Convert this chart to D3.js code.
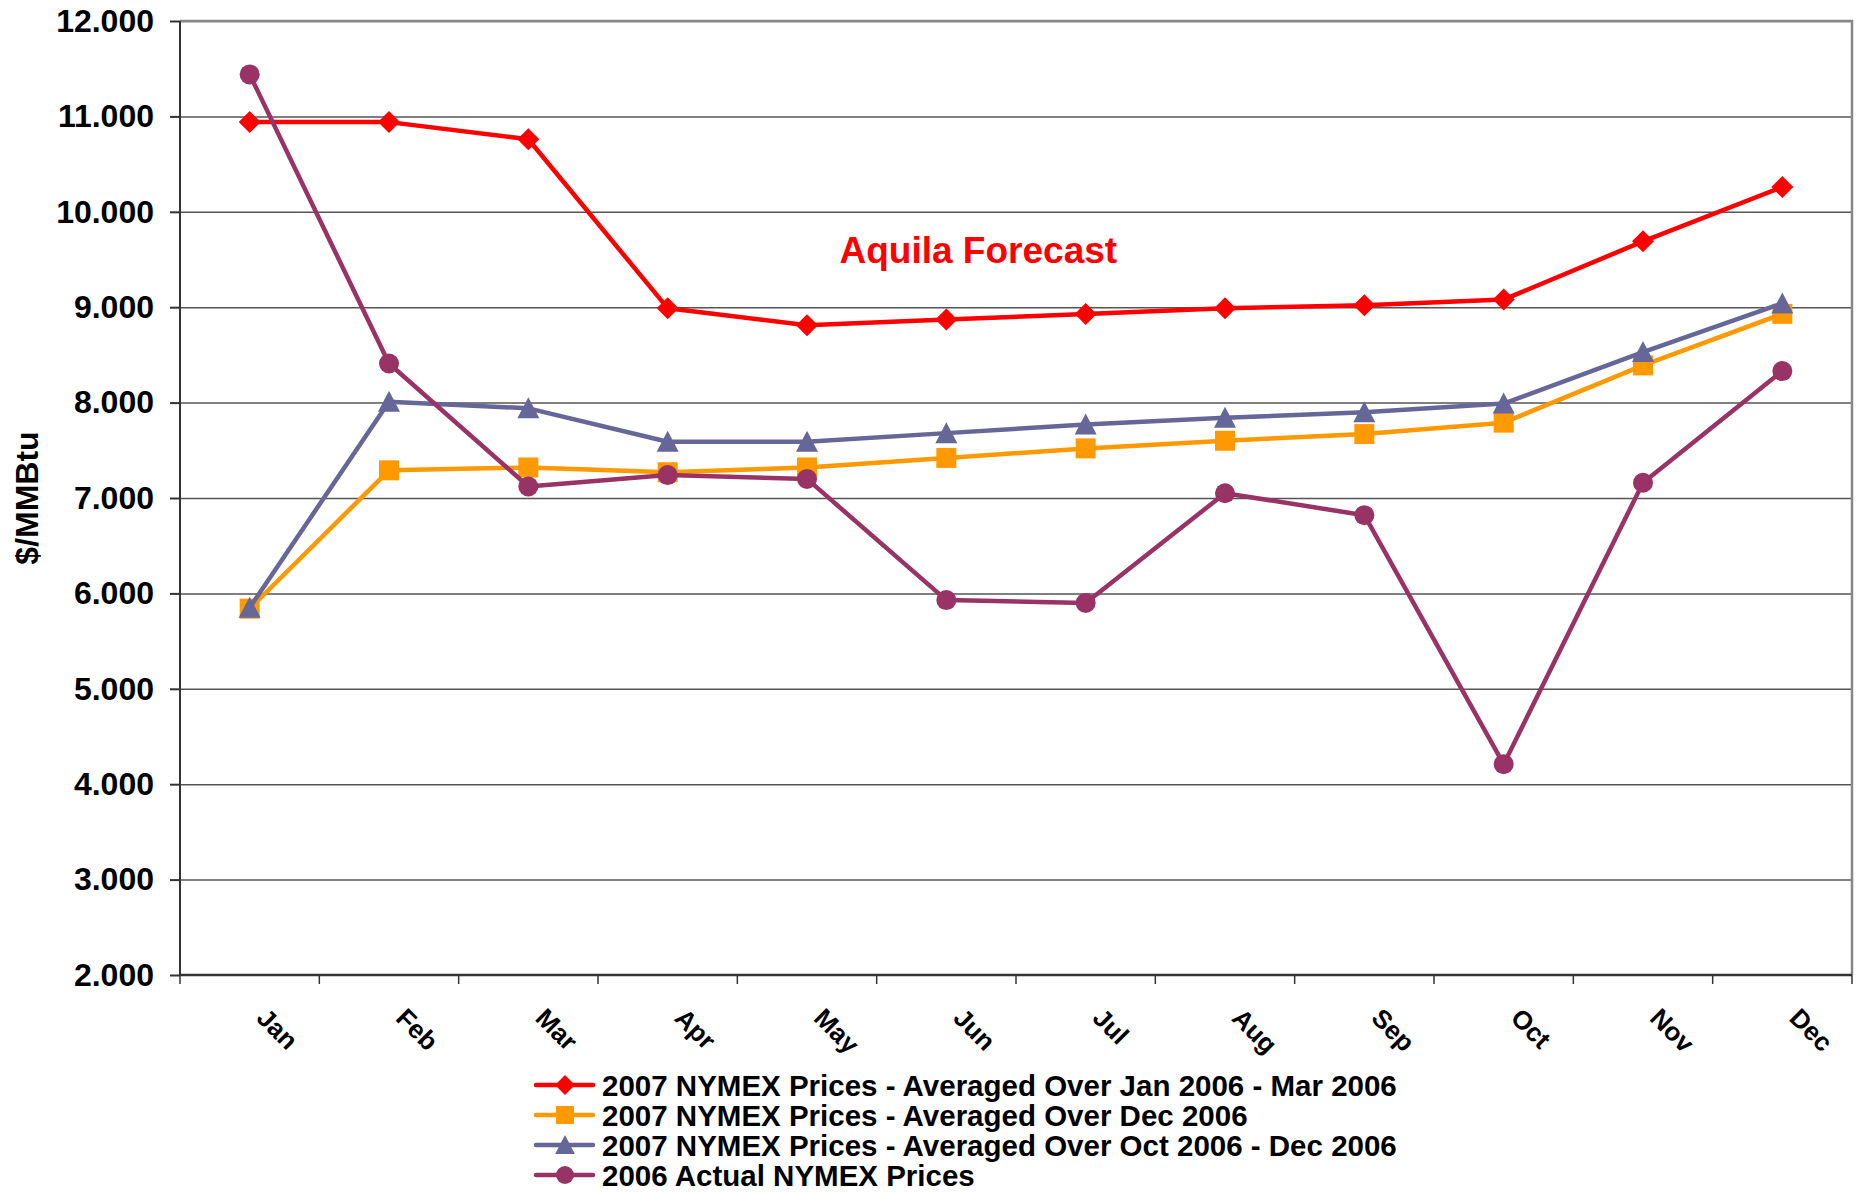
<!DOCTYPE html>
<meta charset="utf-8">
<script src="https://d3js.org/d3.v7.min.js"></script>
<style>
body { margin: 0; background: #fff; }
text { font-family: "Liberation Sans", Arial, sans-serif; font-weight: bold; }
.grid line { stroke: #555; stroke-width: 1.5px; }
.grid path { display: none; }
.y.axis path, .y.axis line { stroke: #333; stroke-width: 2px; }
.y.axis text { font-size: 32px; fill: #000; }
.xlab { font-size: 26px; fill: #000; }
.legend text { font-size: 29.5px; fill: #000; }
</style>
<body>
<script>

var months = ["Jan", "Feb", "Mar", "Apr", "May", "Jun", "Jul", "Aug", "Sep", "Oct", "Nov", "Dec"];

// series values ($/MMBtu)
var avgJanMar = [10.94, 10.94, 10.76, 8.99, 8.81, 8.87, 8.93, 8.99, 9.02, 9.08, 9.69, 10.26];
var avgDec    = [5.84, 7.29, 7.32, 7.27, 7.32, 7.42, 7.52, 7.60, 7.67, 7.79, 8.39, 8.93];
var avgOctDec = [5.85, 8.01, 7.94, 7.59, 7.59, 7.68, 7.77, 7.84, 7.90, 7.99, 8.53, 9.04];
var actual06  = [11.44, 8.41, 7.12, 7.24, 7.20, 5.93, 5.90, 7.05, 6.82, 4.21, 7.16, 8.33];

var yTicks = [2, 3, 4, 5, 6, 7, 8, 9, 10, 11, 12];

var legendLabels = [
  "2007 NYMEX Prices - Averaged Over Jan 2006 - Mar 2006",
  "2007 NYMEX Prices - Averaged Over Dec 2006",
  "2007 NYMEX Prices - Averaged Over Oct 2006 - Dec 2006",
  "2006 Actual NYMEX Prices"
];

var colors = ["#ff0000", "#ff9900", "#666699", "#993366"];
var shapes = ["diamond", "square", "triangle", "circle"];
var seriesValues = [avgJanMar, avgDec, avgOctDec, actual06];

var W = 1858, H = 1193;
var margin = {top: 21, right: 6, bottom: 218, left: 180};
var width = W - margin.left - margin.right,
    height = H - margin.top - margin.bottom;

var svg = d3.select("body").append("svg")
    .attr("width", W)
    .attr("height", H);

var g = svg.append("g")
    .attr("transform", "translate(" + margin.left + "," + margin.top + ")");

var x = d3.scaleBand().domain(months).range([0, width]);
var y = d3.scaleLinear().domain([2, 12]).range([height, 0]);

// gridlines
g.append("g")
    .attr("class", "grid")
    .call(d3.axisLeft(y).tickValues(yTicks.slice(1)).tickSize(-width).tickFormat(""));

// plot frame (top / right in grey)
g.append("path")
    .attr("d", "M0,0H" + width + "V" + height)
    .attr("fill", "none")
    .attr("stroke", "#888")
    .attr("stroke-width", 2.5);

// y axis
g.append("g")
    .attr("class", "y axis")
    .call(d3.axisLeft(y).tickValues(yTicks).tickSize(10).tickPadding(16)
      .tickFormat(d3.format(".3f")))
    .call(function(s) { s.select(".domain").attr("d", "M0,0V" + height); });

// x axis line + boundary ticks
var xa = g.append("g").attr("transform", "translate(0," + height + ")");
xa.append("line").attr("x1", 0).attr("x2", width)
    .attr("stroke", "#333").attr("stroke-width", 2.5);
xa.selectAll(".xt")
    .data(months.map(function(m) { return x(m); }).concat([width]))
  .enter().append("line")
    .attr("x1", function(d) { return d; }).attr("x2", function(d) { return d; })
    .attr("y1", 0).attr("y2", 9)
    .attr("stroke", "#333").attr("stroke-width", 1.5);

xa.selectAll(".xlab")
    .data(months)
  .enter().append("text")
    .attr("class", "xlab")
    .attr("transform", function(d) {
      return "translate(" + (x(d) + x.bandwidth() / 2 + 12) + ",38) rotate(45)";
    })
    .attr("dy", "0.35em")
    .text(function(d) { return d; });

// y title
svg.append("text")
    .attr("transform", "translate(38,498) rotate(-90)")
    .attr("text-anchor", "middle")
    .style("font-size", "32px")
    .text("$/MMBtu");

// marker shapes
function markerPath(shape) {
  if (shape === "diamond") return "M0,-11L11,0L0,11L-11,0Z";
  if (shape === "square") return "M-10,-10H10V10H-10Z";
  if (shape === "triangle") return "M0,-11L11,10H-11Z";
  return d3.symbol().type(d3.symbolCircle).size(Math.PI * 100)();
}

var line = d3.line()
    .x(function(d, i) { return x(months[i]) + x.bandwidth() / 2; })
    .y(function(d) { return y(d); });

seriesValues.forEach(function(vals, k) {
  var sg = g.append("g");
  sg.append("path")
      .datum(vals)
      .attr("d", line)
      .attr("fill", "none")
      .attr("stroke", colors[k])
      .attr("stroke-width", 4.5)
      .attr("stroke-linejoin", "round");
  sg.selectAll(".m")
      .data(vals)
    .enter().append("path")
      .attr("transform", function(d, i) {
        return "translate(" + (x(months[i]) + x.bandwidth() / 2) + "," + y(d) + ")";
      })
      .attr("d", markerPath(shapes[k]))
      .attr("fill", colors[k]);
});

// annotation
g.append("text")
    .attr("x", x("Jun") + x.bandwidth() / 2 + 32)
    .attr("y", y(9.46))
    .attr("text-anchor", "middle")
    .style("font-size", "37px")
    .attr("fill", "#ff0000")
    .text("Aquila Forecast");

// legend
var legend = svg.append("g")
    .attr("class", "legend")
    .attr("transform", "translate(536,1085)");

var li = legend.selectAll(".li")
    .data(legendLabels)
  .enter().append("g")
    .attr("transform", function(d, i) { return "translate(0," + (i * 30) + ")"; });

li.append("line")
    .attr("x1", 0).attr("x2", 57)
    .attr("stroke", function(d, i) { return colors[i]; })
    .attr("stroke-width", 4.5)
    .attr("stroke-linecap", "round");

li.append("path")
    .attr("transform", "translate(29,0) scale(0.9)")
    .attr("d", function(d, i) { return markerPath(shapes[i]); })
    .attr("fill", function(d, i) { return colors[i]; });

li.append("text")
    .attr("x", 66)
    .attr("dy", "0.36em")
    .text(function(d) { return d; });

</script>
</body>
